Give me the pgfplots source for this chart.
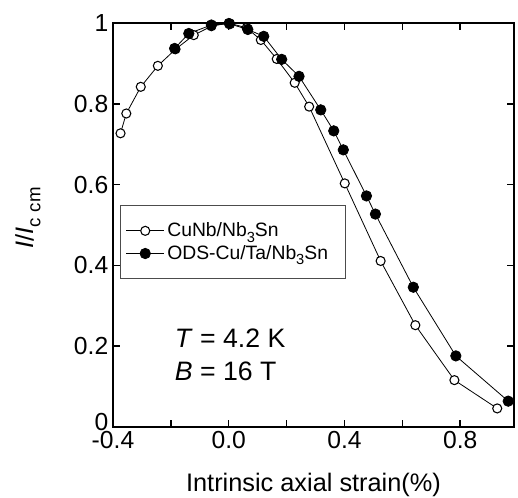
\documentclass[border=0pt]{standalone}
\usepackage{fontspec}
\setmainfont{Liberation Sans}
\usepackage{pgfplots}
\pgfplotsset{compat=1.18}
\newcommand{\lsub}[2]{\raisebox{#1}{\fontsize{11}{12}\selectfont #2}}
\begin{document}
\begin{tikzpicture}
\begin{axis}[
  scale only axis, width=300.75pt, height=303pt,
  xmin=-0.4, xmax=0.986, ymin=0, ymax=1,
  clip=false,
  axis line style={line width=1.5pt},
  tick style={line width=1.1pt, black},
  major tick length=5.25pt,
  tick align=inside,
  xtick={-0.4,-0.2,0,0.2,0.4,0.6,0.8},
  xticklabels={-0.4,,0.0,,0.4,,0.8},
  ytick={0,0.2,0.4,0.6,0.8,1},
  yticklabels={\raisebox{-2.8pt}[0pt][0pt]{0},0.2,0.4,0.6,0.8,1},
  ticklabel style={font=\fontsize{18.5}{20}\selectfont},
  xlabel={Intrinsic axial strain(\%)},
  xlabel style={at={(axis description cs:0.5,0)}, anchor=base, yshift=-48.5pt, font=\fontsize{19}{22}\selectfont},
  ylabel={\textit{I}/\textit{I}\raisebox{-5pt}{\fontsize{14}{15}\selectfont c\,\,cm}},
  ylabel style={at={(axis description cs:-0.2444,0.517)}, anchor=north, inner sep=0pt, font=\fontsize{19}{22}\selectfont},
  legend style={at={(axis description cs:0.0175,0.5495)}, anchor=north west, draw=black!70, line width=0.75pt,
    font=\fontsize{14.5}{17}\selectfont, inner xsep=4pt, inner ysep=11pt, row sep=1pt},
  legend cell align=left,
  legend image code/.code={\draw[#1, mark repeat=2, mark phase=2] plot coordinates {(0pt,0pt) (14.25pt,0pt) (28.5pt,0pt)};},
]
\addplot[black, line width=0.6pt, mark=*, mark size=3.4pt, mark options={fill=white, draw=black, line width=0.8pt}] table {
x y
-0.374 0.727
-0.354 0.776
-0.304 0.842
-0.245 0.894
-0.184 0.935
-0.121 0.970
-0.060 0.992
0.000 1.000
0.062 0.988
0.111 0.958
0.166 0.911
0.228 0.852
0.278 0.793
0.401 0.603
0.525 0.411
0.645 0.252
0.780 0.116
0.928 0.046
};
\addlegendentry{CuNb/Nb\lsub{-4pt}{3}Sn}
\addplot[black, line width=0.6pt, mark=*, mark size=3.9pt, mark options={fill=black}] table {
x y
-0.187 0.937
-0.138 0.974
-0.060 0.995
0.003 0.998
0.066 0.984
0.121 0.967
0.183 0.910
0.243 0.868
0.318 0.785
0.363 0.733
0.396 0.686
0.476 0.572
0.507 0.527
0.638 0.346
0.785 0.176
0.966 0.064
};
\addlegendentry{ODS-Cu/Ta/Nb\lsub{-4pt}{3}Sn\hspace*{7pt}\rule[-12pt]{0pt}{1pt}}
\node[anchor=base west, font=\fontsize{20}{24}\selectfont, inner sep=0pt] at (axis cs:-0.187,0.198) {\textit{T} = 4.2 K};
\node[anchor=base west, font=\fontsize{20}{24}\selectfont, inner sep=0pt] at (axis cs:-0.187,0.116) {\textit{B} = 16 T};
\end{axis}
\pgfresetboundingbox
\path ([xshift=-84.75pt,yshift=-52.5pt]current axis.south west) rectangle ([xshift=3pt,yshift=17.25pt]current axis.north east);
\end{tikzpicture}
\end{document}
